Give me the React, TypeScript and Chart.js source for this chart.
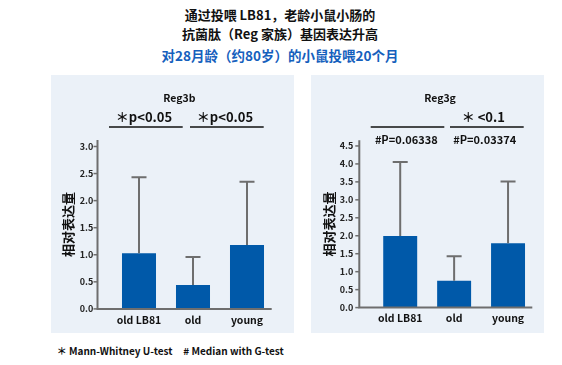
import React, { useEffect, useRef } from 'react';
import { Chart, registerables } from 'chart.js';

Chart.register(...registerables);

const FONT = "'Noto Sans CJK SC', 'Noto Sans', sans-serif";

const categories = ['old LB81', 'old', 'young'];

const reg3bMeans = [1.03, 0.44, 1.18];
const reg3bErrTop = [2.43, 0.96, 2.35];
const reg3bTicks = [0, 0.5, 1.0, 1.5, 2.0, 2.5, 3.0];

const reg3gMeans = [1.99, 0.75, 1.79];
const reg3gErrTop = [4.05, 1.43, 3.51];
const reg3gTicks = [0, 0.5, 1.0, 1.5, 2.0, 2.5, 3.0, 3.5, 4.0, 4.5];

const titleLines = ['通过投喂 LB81，老龄小鼠小肠的', '抗菌肽（Reg 家族）基因表达升高', '对28月龄（约80岁）的小鼠投喂20个月'];
const footnotes = ['＊ Mann-Whitney U-test', '# Median with G-test'];

const BAR = '#0059a9';
const AXIS = '#6e6e6e';
const BG = '#ebf1f8';

type Ann = { text: string; x: number; y: number; size: number };
type Line = { x1: number; x2: number; y: number };

type PanelCfg = {
  left: number; top: number; width: number; height: number;
  areaLeft: number; areaRight: number; areaTop: number; areaBottom: number;
  axisX: number; axisEnd: number; yMax: number; ticks: number[];
  means: number[]; errTop: number[]; labelPad: number; titlePad: number;
  anns: Ann[]; lines: Line[];
};

const panels: PanelCfg[] = [
  {
    left: 51, top: 75, width: 243, height: 258,
    areaLeft: 61, areaRight: 223, areaTop: 65, areaBottom: 236.7,
    axisX: 46.5, axisEnd: 220.7, yMax: 3.12, ticks: reg3bTicks,
    means: reg3bMeans, errTop: reg3bErrTop, labelPad: 18.7, titlePad: 9.5,
    anns: [
      { text: 'Reg3b', x: 128.3, y: 23, size: 10.5 },
      { text: '＊p<0.05', x: 93, y: 42.3, size: 13 },
      { text: '＊p<0.05', x: 174, y: 42.3, size: 13 },
    ],
    lines: [
      { x1: 58, x2: 131.7, y: 52 },
      { x1: 139, x2: 212.7, y: 52 },
    ],
  },
  {
    left: 311, top: 75, width: 233, height: 258,
    areaLeft: 62.25, areaRight: 224, areaTop: 65.2, areaBottom: 236.7,
    axisX: 48.3, axisEnd: 221.3, yMax: 4.66, ticks: reg3gTicks,
    means: reg3gMeans, errTop: reg3gErrTop, labelPad: 20, titlePad: 10.5,
    anns: [
      { text: 'Reg3g', x: 129, y: 23.3, size: 10.5 },
      { text: '＊ <0.1', x: 172.3, y: 42.3, size: 13 },
      { text: '#P=0.06338', x: 95.3, y: 65, size: 11 },
      { text: '#P=0.03374', x: 173.7, y: 65, size: 11 },
    ],
    lines: [
      { x1: 59.7, x2: 133.3, y: 52 },
      { x1: 139, x2: 212.7, y: 52 },
    ],
  },
];

function Panel({ cfg }: { cfg: PanelCfg }) {
  const ref = useRef<HTMLCanvasElement | null>(null);
  useEffect(() => {
    if (!ref.current) return;
    const overlay = {
      id: 'overlay',
      afterDatasetsDraw(chart: any) {
        const ctx = chart.ctx as CanvasRenderingContext2D;
        const ys = chart.scales.y;
        const area = chart.chartArea;
        const meta = chart.getDatasetMeta(0);
        ctx.save();
        // error bars
        ctx.strokeStyle = AXIS;
        ctx.lineWidth = 2;
        meta.data.forEach((el: any, i: number) => {
          const yt = ys.getPixelForValue(cfg.errTop[i]);
          ctx.beginPath();
          ctx.moveTo(el.x, el.y);
          ctx.lineTo(el.x, yt);
          ctx.moveTo(el.x - 7.5, yt);
          ctx.lineTo(el.x + 7.5, yt);
          ctx.stroke();
        });
        // axes
        ctx.beginPath();
        ctx.moveTo(cfg.axisX, area.top);
        ctx.lineTo(cfg.axisX, area.bottom + 1);
        ctx.moveTo(cfg.axisX - 1, area.bottom);
        ctx.lineTo(cfg.axisEnd, area.bottom);
        ctx.stroke();
        ctx.lineWidth = 1.5;
        cfg.ticks.forEach((v) => {
          const y = ys.getPixelForValue(v);
          ctx.beginPath();
          ctx.moveTo(cfg.axisX - 4, y);
          ctx.lineTo(cfg.axisX, y);
          ctx.stroke();
        });
        // annotations
        ctx.fillStyle = '#111';
        ctx.textAlign = 'center';
        ctx.textBaseline = 'middle';
        cfg.anns.forEach((a) => {
          ctx.font = `bold ${a.size}px ${FONT}`;
          ctx.fillText(a.text, a.x, a.y);
        });
        ctx.strokeStyle = '#111';
        ctx.lineWidth = 1.3;
        cfg.lines.forEach((l) => {
          ctx.beginPath();
          ctx.moveTo(l.x1, l.y);
          ctx.lineTo(l.x2, l.y);
          ctx.stroke();
        });
        ctx.restore();
      },
    };
    const chart = new Chart(ref.current, {
      type: 'bar',
      data: {
        labels: categories,
        datasets: [
          {
            data: cfg.means,
            backgroundColor: BAR,
            borderWidth: 0,
            barPercentage: 0.63,
            categoryPercentage: 1,
          },
        ],
      },
      options: {
        animation: false,
        responsive: false,
        devicePixelRatio: 1,
        layout: {
          padding: { left: 0, top: cfg.areaTop, right: cfg.width - cfg.areaRight, bottom: 0 },
        },
        plugins: { legend: { display: false }, tooltip: { enabled: false }, title: { display: false } },
        scales: {
          x: {
            offset: true,
            grid: { display: false, drawTicks: false, tickLength: 0 },
            border: { display: false },
            ticks: { color: '#111', padding: 4.5, font: { family: FONT, size: 10.5, weight: 'bold' } },
            afterFit: (s: any) => { s.height = cfg.height - cfg.areaBottom; },
          },
          y: {
            min: 0,
            max: cfg.yMax,
            grid: { display: false, drawTicks: false, tickLength: 0 },
            border: { display: false },
            afterBuildTicks: (s: any) => { s.ticks = cfg.ticks.map((v) => ({ value: v })); },
            ticks: {
              color: '#222',
              padding: cfg.labelPad,
              font: { family: FONT, size: 9, weight: 'bold' },
              callback: (v: any) => Number(v).toFixed(1),
            },
            title: {
              display: true,
              text: '相对表达量',
              color: '#111',
              font: { family: FONT, size: 13, weight: 'bold' },
              padding: { top: cfg.titlePad, bottom: 0 },
            },
            afterFit: (s: any) => { s.width = cfg.areaLeft; },
          },
        },
      } as any,
      plugins: [overlay],
    });
    return () => chart.destroy();
  }, [cfg]);
  return (
    <div style={{ position: 'absolute', left: cfg.left, top: cfg.top, width: cfg.width, height: cfg.height, background: BG }}>
      <canvas ref={ref} width={cfg.width} height={cfg.height} style={{ width: cfg.width, height: cfg.height, display: 'block' }} />
    </div>
  );
}

export default function App() {
  useEffect(() => {
    document.body.style.margin = '0';
  }, []);
  const lineTops = [5, 24.3, 45];
  return (
    <div style={{ position: 'fixed', left: 0, top: 0, width: 562, height: 365, background: '#fff', fontFamily: FONT, overflow: 'hidden' }}>
      {titleLines.map((t, i) => (
        <div
          key={i}
          style={{
            position: 'absolute', left: 0, width: 560, top: lineTops[i], height: 20, lineHeight: '20px',
            textAlign: 'center', fontWeight: 700, fontSize: i === 2 ? 13.5 : 13,
            color: i === 2 ? '#1560bd' : '#111', whiteSpace: 'nowrap',
          }}
        >
          {t}
        </div>
      ))}
      {panels.map((p, i) => <Panel key={i} cfg={p} />)}
      {footnotes.map((t, i) => (
        <div
          key={i}
          style={{
            position: 'absolute', left: i === 0 ? 56.7 : 183.3, top: 342.7, height: 16, lineHeight: '16px',
            fontSize: 10, fontWeight: 700, color: '#111', whiteSpace: 'nowrap',
          }}
        >
          {t}
        </div>
      ))}
    </div>
  );
}
